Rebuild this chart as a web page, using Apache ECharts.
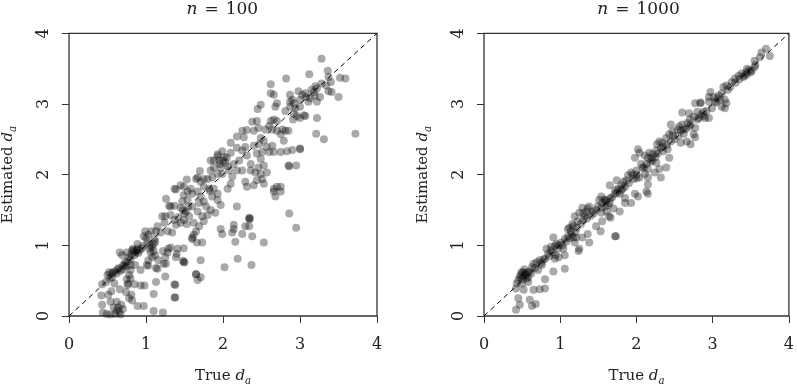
<!DOCTYPE html>
<html>
<head>
<meta charset="utf-8">
<script src="https://cdn.jsdelivr.net/npm/echarts@6/dist/echarts.min.js"></script>
<style>
html, body { margin: 0; padding: 0; background: #fff; }
#chart { width: 797px; height: 391px; }
</style>
</head>
<body>
<div id="chart"></div>
<script>
// 面板标题
var panelN = ['100', '1000'];
var axisTicks = [0, 1, 2, 3, 4];

// n = 100 : [真值, 估计值]
var pts100 = [
  [0.44,0.05],[0.49,0.03],[0.54,0.02],[0.6,0.03],[0.65,0.06],[0.67,0.02],
  [0.43,0.16],[0.54,0.2],[0.68,0.16],[0.64,0.12],[0.42,0.29],[0.51,0.3],
  [0.59,0.46],[0.66,0.38],[0.74,0.34],[0.77,0.46],[0.85,0.45],[0.93,0.43],[0.98,0.43],
  [0.89,0.14],[0.97,0.14],[1.1,0.07],[1.22,0.05],[1.1,0.31],[1.13,0.48],[1.37,0.45],[1.37,0.26],
  [1.25,0.56],[1.03,0.71],[1.15,0.67],[1.23,0.74],[1.49,0.76],[1.49,0.96],[1.65,0.59],
  [0.43,0.45],[0.48,0.48],[0.53,0.53],[0.55,0.6],[0.6,0.63],[0.65,0.68],[0.7,0.71],[0.73,0.76],
  [0.78,0.83],[0.81,0.87],[0.84,0.92],[0.89,0.95],[0.9,0.89],[0.96,0.99],[1.02,1.04],
  [0.78,0.58],[0.8,0.65],[0.86,0.72],[0.8,0.72],[0.93,0.65],[1.01,0.72],[1.03,0.79],[1.13,0.68],
  [1.16,0.79],[1.22,0.92],[1.25,0.83],[1.29,0.95],[1.4,0.88],[1.1,0.92],[1.12,0.86],[1.08,0.83],
  [1.06,0.9],[0.69,0.86],[0.97,1.13],[0.99,1.2],
  [0.5,0.58],[0.52,0.62],[0.56,0.55],[0.57,0.62],[0.62,0.6],[0.63,0.66],[0.67,0.64],[0.7,0.66],
  [0.72,0.72],[0.75,0.7],[0.76,0.77],[0.8,0.8],[0.82,0.93],[0.85,0.86],[0.87,0.9],[0.88,0.93],
  [0.92,0.93],[0.95,0.96],[0.75,0.9],[0.66,0.9],[0.75,0.52],[0.8,0.53],[0.76,0.44],[0.55,0.35],
  [0.62,0.2],[0.7,0.1],[0.78,0.25],[0.81,0.3],[0.82,0.22],[0.62,0.08],[0.58,0.12],
  [1.05,1.0],[1.08,0.98],[1.1,1.02],[1.12,1.05],[1.05,0.95],[1.0,1.1],[1.03,1.15],[1.07,1.2],
  [0.89,1.02],[0.83,0.95],[1.28,0.9],[1.32,0.97],[1.41,0.95],[1.26,0.74],[1.39,0.83],
  [1.25,1.41],[1.3,1.56],[1.37,1.56],
  [2.18,2.54],[2.1,2.45],[2.18,2.38],[2.1,2.31],[2.02,2.25],[1.99,2.33],[1.93,2.26],[1.88,2.2],
  [1.95,2.2],[2.03,2.17],[1.88,2.1],[1.97,2.1],[1.84,2.06],[1.8,1.94],[1.86,1.96],[1.93,2.01],
  [1.99,2.01],[2.08,2.06],[2.14,2.15],[2.21,2.2],[2.18,2.06],[2.12,1.97],[2.25,2.06],[2.36,2.06],
  [2.42,2.03],[2.49,2.01],[2.36,2.15],[2.46,2.1],[2.53,2.13],[2.57,2.03],[2.51,1.94],[2.44,1.92],
  [2.4,1.85],[2.31,1.83],[2.29,1.9],[2.53,1.87],[2.66,1.8],[2.7,1.83],[2.68,1.69],[2.18,1.55],[2.34,1.39],
  [1.75,1.94],[1.71,1.9],[1.75,1.83],[1.82,1.8],[1.88,1.8],[1.93,1.73],[1.86,1.69],[1.93,1.64],
  [1.97,1.57],[1.65,1.94],[1.58,1.8],[1.54,1.76],[1.6,1.73],[1.67,1.76],[1.71,1.69],[1.75,1.62],
  [1.69,1.6],[1.78,1.55],[1.84,1.5],[1.9,1.46],[1.8,1.43],[1.73,1.41],[1.67,1.48],[1.6,1.55],
  [1.54,1.64],[1.49,1.71],[1.47,1.62],[1.45,1.53],[1.52,1.48],[1.56,1.41],[1.49,1.36],[1.45,1.32],
  [1.39,1.29],[1.37,1.36],[1.32,1.43],[1.32,1.55],[1.37,1.8],[1.26,1.66],[1.21,1.41],[1.24,1.32],
  [1.15,1.27],[1.13,1.2],[1.19,1.18],[1.28,1.2],[1.34,1.18],[1.11,1.09],[1.62,1.32],[1.69,1.27],
  [1.75,1.34],[1.62,1.15],[1.6,1.09],[1.73,1.04],[1.97,1.23],[1.99,1.16],[2.12,1.18],[2.25,1.16],
  [2.29,1.27],[2.14,1.29],[2.53,1.04],[2.16,1.05],
  [1.5,1.45],[1.53,1.3],[1.48,1.5],[1.42,1.4],[1.55,1.55],[1.96,2.15],[2.0,2.2],[2.05,2.24],
  [2.06,2.12],[1.83,1.77],[1.39,1.79],[1.49,1.83],[1.53,1.93],[1.45,1.85],[1.7,2.05],[1.67,1.96],
  [1.84,2.2],[1.93,2.29],
  [3.28,3.64],[3.36,3.47],[3.12,3.42],[2.82,3.36],[3.52,3.37],[3.59,3.36],[3.37,3.38],[3.4,3.31],
  [3.34,3.26],[3.37,3.18],[3.41,3.17],[3.5,3.1],[3.28,3.29],[3.22,3.22],[3.18,3.17],[3.19,3.12],
  [3.13,3.08],[3.11,3.03],[3.26,3.1],[3.22,3.03],[2.62,3.28],[2.62,3.15],[2.66,3.13],[2.7,3.01],
  [2.68,2.96],[2.49,2.99],[2.45,2.93],[2.87,3.13],[2.9,3.06],[2.87,3.03],[2.92,3.01],[2.98,3.18],
  [3.03,3.13],[3.0,3.06],[3.07,3.15],[3.0,2.96],[2.94,2.94],[2.87,2.96],[2.81,2.9],[2.92,2.86],
  [2.96,2.83],[3.0,2.8],[3.07,2.83],[2.91,2.78],[3.22,2.8],[3.21,2.58],[3.31,2.5],[3.72,2.58],
  [2.38,2.75],[2.44,2.76],[2.46,2.66],[2.4,2.62],[2.31,2.63],[2.25,2.62],[2.27,2.53],[2.49,2.52],
  [2.55,2.64],[2.6,2.69],[2.62,2.76],[2.66,2.78],[2.7,2.76],[2.64,2.64],[2.7,2.62],[2.77,2.64],
  [2.75,2.57],[2.81,2.62],[2.85,2.62],[2.79,2.48],[2.53,2.48],[2.47,2.43],[2.4,2.41],[2.29,2.39],
  [2.25,2.34],[2.31,2.27],[2.44,2.3],[2.51,2.32],[2.57,2.39],[2.64,2.41],[2.6,2.32],[2.66,2.32],
  [2.75,2.32],[2.9,2.35],[3.0,2.36],[2.49,2.22],[3.15,3.2],[3.2,3.25],[3.08,3.1],[3.05,2.84],
  [2.95,1.25],[2.86,1.45],[2.37,0.72],[2.34,1.27],[2.34,1.37],[2.35,1.38],[2.38,1.13],[2.14,1.23],
  [2.19,0.81],[2.02,0.69],[1.66,1.04],[1.71,0.79],[1.65,0.59],[1.71,0.55],[1.67,0.51],[1.65,1.2],
  [1.6,1.11],[1.48,0.78],[1.5,0.76],[1.38,0.26],[1.38,0.44],[2.75,1.83],[2.75,1.76],[2.66,1.76],
  [2.95,2.13],[2.85,2.13],[2.86,2.12],[2.83,2.33],[3.0,2.37],[2.1,1.87],[2.06,1.8]
];

// n = 1000 : [真值, 估计值]
var pts1000 = [
  [0.42,0.09],[0.47,0.16],[0.45,0.25],[0.6,0.23],[0.63,0.14],[0.68,0.17],[0.65,0.37],[0.73,0.38],
  [0.8,0.39],[0.8,0.52],[0.91,0.63],[1.06,0.67],[0.52,0.37],[0.42,0.39],
  [0.43,0.46],[0.45,0.51],[0.48,0.58],[0.51,0.62],[0.54,0.6],[0.52,0.56],[0.56,0.53],[0.58,0.48],
  [0.5,0.46],[0.6,0.63],[0.63,0.69],[0.65,0.74],[0.69,0.76],[0.67,0.68],[0.73,0.79],[0.76,0.72],
  [0.71,0.65],[0.8,0.81],[0.84,0.88],[0.82,0.95],[0.88,0.93],[0.93,0.99],[0.91,1.11],[0.95,1.02],
  [0.97,0.95],[0.94,0.86],[0.98,0.83],[1.06,0.86],[1.04,0.95],[1.01,1.04],[1.06,1.09],[1.1,1.13],
  [1.1,1.23],[1.14,1.2],[1.17,1.27],[1.19,1.41],[1.23,1.34],[1.25,1.46],[1.29,1.53],[1.32,1.41],
  [1.34,1.48],[1.38,1.55],[1.42,1.48],[1.49,1.55],[1.55,1.6],[1.6,1.64],[1.66,1.67],[1.51,1.64],
  [1.17,1.11],[1.21,1.11],[1.29,1.11],[1.38,1.04],[1.25,0.95],[1.19,1.04],[1.47,1.27],[1.53,1.2],
  [1.55,1.34],[1.66,1.39],[1.73,1.13],[1.36,1.16],[0.93,0.81],
  [0.47,0.55],[0.5,0.52],[0.55,0.58],[0.57,0.62],[0.49,0.62],[0.53,0.66],[1.03,1.0],[1.08,1.05],
  [1.12,1.1],[1.15,1.15],[1.2,1.18],[1.22,1.25],[1.27,1.3],[1.3,1.35],[1.35,1.38],[1.4,1.42],
  [1.44,1.45],[1.3,1.45],[1.36,1.52],[1.47,1.5],[0.86,0.85],[0.9,0.9],[0.75,0.75],[0.78,0.8],
  [0.62,0.6],[0.58,0.55],[0.98,1.0],[0.88,0.98],[1.12,1.25],[1.16,1.3],
  [2.77,3.01],[2.84,3.02],[2.95,3.03],[2.99,2.94],[2.88,2.89],[2.8,2.89],[2.75,2.82],[2.82,2.8],
  [2.9,2.8],[2.6,2.88],[2.69,2.87],[2.67,2.73],[2.6,2.71],[2.56,2.68],[2.54,2.64],[2.62,2.64],
  [2.71,2.71],[2.77,2.66],[2.75,2.57],[2.77,2.53],[2.66,2.47],[2.58,2.45],[2.45,2.71],[2.47,2.61],
  [2.43,2.57],[2.39,2.52],[2.45,2.47],[2.34,2.45],[2.3,2.47],[2.27,2.43],[2.32,2.38],[2.41,2.36],
  [2.26,2.34],[2.21,2.29],[2.17,2.31],[2.15,2.24],[2.11,2.27],[2.21,2.2],[2.26,2.17],[2.04,2.31],
  [1.98,2.24],[2.02,2.36],[2.13,2.15],[2.06,2.15],[2.15,2.08],[2.39,2.1],[2.3,2.08],[2.32,1.96],
  [2.24,2.03],[2.11,2.01],[2.0,2.06],[1.93,2.03],[1.89,1.99],[1.96,1.94],[2.04,1.96],[2.15,1.96],
  [2.15,1.86],[1.87,1.92],[1.83,1.9],[1.8,1.85],[1.85,1.83],[1.76,1.8],[1.72,1.73],[1.78,1.73],
  [1.98,1.73],[2.02,1.69],[2.15,1.73],[1.85,1.67],[1.63,1.57],[1.59,1.55],[1.54,1.53],[1.65,1.85],
  [1.74,1.92],[1.93,1.6],[1.85,1.6],[1.78,1.48],[1.7,1.52],[1.61,1.48],[1.54,1.46],[1.54,1.69],
  [1.68,1.68],[1.72,1.78],[1.75,1.75],[1.9,1.88],[1.95,2.0],[2.0,1.95],[2.08,2.1],[2.2,2.24],
  [2.25,2.25],[2.35,2.33],[2.4,2.42],[2.5,2.5],[2.55,2.55],[2.62,2.58],[2.65,2.65],[2.7,2.68],
  [1.6,1.62],[1.65,1.6],[1.82,1.8],[2.1,2.1],[2.35,2.4],[2.48,2.55],[2.58,2.62],[2.8,2.78],
  [2.85,2.85],[2.92,2.9],[2.7,2.78],[1.58,1.65],[1.8,1.78],[2.0,2.0],[2.18,2.18],[2.28,2.3],
  [2.71,2.43],[2.43,2.24],[2.13,1.76],[1.72,1.13],[1.64,1.41],[1.24,0.92],
  [3.7,3.78],[3.64,3.73],[3.75,3.68],[3.55,3.61],[3.62,3.66],[3.55,3.52],[3.51,3.47],[3.44,3.45],
  [3.38,3.43],[3.34,3.4],[3.4,3.38],[3.29,3.36],[3.25,3.31],[3.18,3.26],[3.23,3.24],[3.14,3.24],
  [2.97,3.17],[2.95,3.1],[3.01,3.1],[3.06,3.08],[3.1,3.06],[3.16,3.06],[3.18,3.01],[3.12,2.96],
  [3.16,2.94],[3.03,3.03],[2.95,2.8],[2.88,2.83],[2.84,3.01],
  [3.3,3.3],[3.35,3.35],[3.45,3.42],[3.48,3.48],[3.2,3.2],[3.08,3.12],[3.12,3.15],[3.05,3.02],
  [3.45,3.5],[3.5,3.45],[3.56,3.55],[3.42,3.4]
];

var diagLine = [[0, 0], [4, 4]];

var serif = 'DejaVu Serif';
var inkColor = '#222';

function subRich(size) {
  return {
    t: { fontFamily: serif, fontSize: size, color: inkColor },
    i: { fontFamily: serif, fontSize: size, fontStyle: 'italic', color: inkColor },
    s: { fontFamily: serif, fontSize: size * 0.68, fontStyle: 'italic', color: inkColor, padding: [9, 0, 0, 0] }
  };
}

function makeXAxis(idx) {
  return {
    gridIndex: idx,
    type: 'value',
    min: 0, max: 4, interval: 1,
    name: '{t|True }{i|d}{s|a}',
    nameLocation: 'middle',
    nameGap: 51,
    nameTextStyle: { rich: subRich(15) },
    axisLine: { show: false },
    axisTick: { show: true, length: 7, lineStyle: { color: '#333', width: 1 } },
    axisLabel: { margin: 21, fontFamily: serif, fontSize: 16, color: inkColor },
    splitLine: { show: false }
  };
}

function makeYAxis(idx) {
  return {
    gridIndex: idx,
    type: 'value',
    min: 0, max: 4, interval: 1,
    name: '{t|Estimated }{i|d}{s|a}',
    nameLocation: 'middle',
    nameRotate: 90,
    nameGap: 51,
    nameTextStyle: { rich: subRich(15) },
    axisLine: { show: false },
    axisTick: { show: true, length: 7, lineStyle: { color: '#333', width: 1 } },
    axisLabel: { margin: 17, rotate: 90, fontFamily: serif, fontSize: 16, color: inkColor },
    splitLine: { show: false }
  };
}

function makeSeries(idx, pts) {
  return [{
    type: 'scatter',
    xAxisIndex: idx, yAxisIndex: idx,
    data: pts,
    symbol: 'circle',
    symbolSize: 8,
    itemStyle: { color: 'rgba(0,0,0,0.42)' },
    silent: true
  }, {
    type: 'line',
    xAxisIndex: idx, yAxisIndex: idx,
    data: diagLine,
    symbol: 'none',
    lineStyle: { color: '#000', width: 1, type: [5, 4] },
    silent: true
  }];
}

function titleText(x, n) {
  return {
    type: 'text', x: x, y: 10,
    style: {
      text: '{i|n}{e|=}' + n,
      rich: {
        i: { fontFamily: serif, fontSize: 17, fontStyle: 'italic', fill: inkColor },
        e: { fontFamily: serif, fontSize: 17, fill: inkColor, padding: [0, 7, 0, 7] }
      },
      fontFamily: serif, fontSize: 17, fill: inkColor,
      align: 'center', verticalAlign: 'middle'
    }
  };
}

var chart = echarts.init(document.getElementById('chart'), null, { renderer: 'canvas' });

var option = {
  animation: false,
  backgroundColor: '#fff',
  grid: [
    { left: 67.7, top: 33.3, width: 309.3, height: 288.4, show: true, borderColor: '#333', borderWidth: 1.3 },
    { left: 484, top: 33.3, width: 309, height: 288.4, show: true, borderColor: '#333', borderWidth: 1.3 }
  ],
  xAxis: [makeXAxis(0), makeXAxis(1)],
  yAxis: [makeYAxis(0), makeYAxis(1)],
  series: makeSeries(0, pts100).concat(makeSeries(1, pts1000)),
  graphic: [titleText(222.3, panelN[0]), titleText(638.5, panelN[1])]
};

chart.setOption(option);
</script>
</body>
</html>
